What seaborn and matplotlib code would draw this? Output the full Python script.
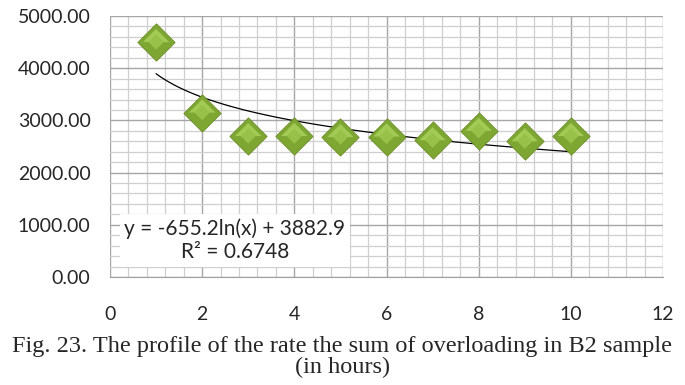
import numpy as np
import pandas as pd
import matplotlib
matplotlib.use("Agg")
import matplotlib.pyplot as plt
from matplotlib.ticker import MultipleLocator, FormatStrFormatter
import seaborn as sns

# values
hours = [1, 2, 3, 4, 5, 6, 7, 8, 9, 10]
overload_sum = [4500, 3150, 2700, 2700, 2680, 2690, 2620, 2800, 2600, 2700]
trend_label = "y = -655.2ln(x) + 3882.9\nR² = 0.6748"
caption = ("Fig. 23. The profile of the rate the sum of overloading in B2 sample\n"
           "(in hours)")

df = pd.DataFrame({"hours": hours, "overload": overload_sum})

sns.set_style("white")
plt.rcParams["font.family"] = ["Lato", "DejaVu Sans"]

fig = plt.figure(figsize=(6.85, 3.85), dpi=100)
ax = fig.add_axes([110 / 685, 108 / 385, 553 / 685, 261 / 385])

# logarithmic trend line (excel style)
sns.regplot(data=df, x="hours", y="overload", logx=True, ci=None,
            scatter=False, ax=ax, line_kws={"color": "black", "lw": 0.9, "zorder": 3})

# diamonds: dark base, lighter upper half, light centre -> bevel look
upper_half = [(-1, 0), (0, 1), (1, 0), (-1, 0)]
sns.scatterplot(data=df, x="hours", y="overload", marker="D", s=360,
                color="#7EA632", edgecolor="#6A8E25", linewidth=0.6, ax=ax, zorder=4)
sns.scatterplot(data=df, x="hours", y="overload", marker=upper_half, s=360,
                color="#A2CB55", edgecolor="none", ax=ax, zorder=5)
sns.scatterplot(data=df, x="hours", y="overload", marker="D", s=60,
                color="#98C14A", edgecolor="none", ax=ax, zorder=6)

ax.set_xlim(0, 12)
ax.set_ylim(0, 5000)
ax.xaxis.set_major_locator(MultipleLocator(2))
ax.xaxis.set_minor_locator(MultipleLocator(0.4))
ax.yaxis.set_major_locator(MultipleLocator(1000))
ax.yaxis.set_minor_locator(MultipleLocator(200))
ax.yaxis.set_major_formatter(FormatStrFormatter("%.2f"))

ax.grid(which="major", color="#a6a6a6", lw=1.0, zorder=0)
ax.grid(which="minor", color="#cfcfcf", lw=0.9, zorder=0)
ax.set_axisbelow(True)

for side in ["top", "right", "left"]:
    ax.spines[side].set_visible(False)
ax.spines["bottom"].set_color("#a0a0a0")

ax.tick_params(axis="x", which="major", length=7, color="#a0a0a0", pad=14, labelsize=14)
ax.tick_params(axis="y", which="major", length=5, color="#a0a0a0", pad=9, labelsize=14)
ax.tick_params(which="minor", length=0)
ax.set_xlabel("")
ax.set_ylabel("")

ax.text(0.226, 0.14, trend_label, transform=ax.transAxes, ha="center", va="center",
        fontsize=15, linespacing=1.2, zorder=7,
        bbox=dict(boxstyle="square,pad=0.2", fc="white", ec="none"))

fig.text(0.5, 0.072, caption, ha="center", va="center", fontsize=17.5,
         family=["Liberation Serif", "DejaVu Serif"], linespacing=1.0)

fig.savefig("out.png", dpi=100)
